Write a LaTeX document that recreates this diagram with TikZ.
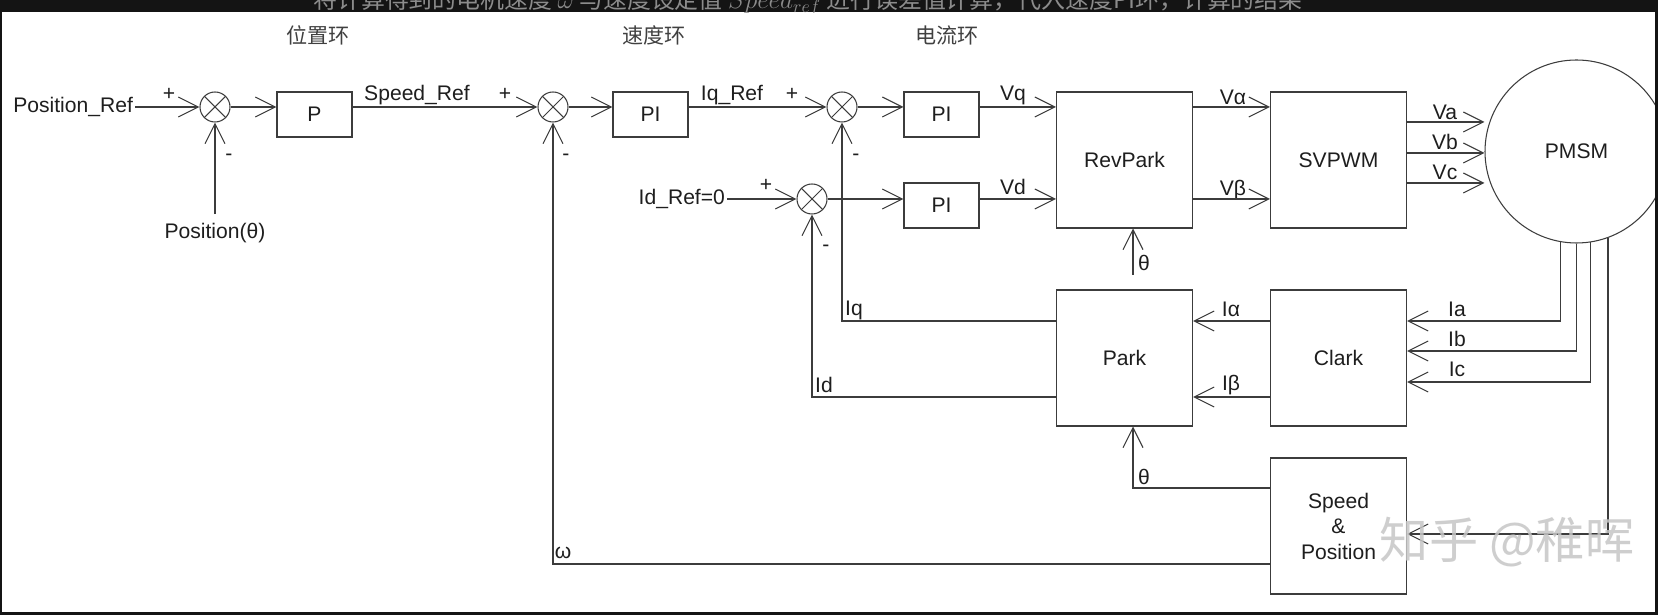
\documentclass[tikz,border=0pt]{standalone}
\usepackage{fontspec}
\setmainfont{Liberation Sans}
\newfontfamily\cjk{Noto Sans CJK SC}
\usetikzlibrary{arrows.meta, calc}

\definecolor{lnc}{HTML}{3C3C3C}
\definecolor{txc}{HTML}{1E1E1E}
\definecolor{bandc}{HTML}{141414}
\definecolor{capc}{HTML}{8C8C8C}

\begin{document}
\begin{tikzpicture}[
    blkbox/.style={draw=lnc, line width=0.6pt, minimum width=1.5cm, minimum height=0.9cm, inner sep=0pt, text=txc, font=\fontsize{12}{14.5}\selectfont},
    bigbox/.style={blkbox, minimum width=2.72cm, minimum height=2.72cm, align=center},
    sumnode/.style={circle, draw=lnc, line width=0.6pt, minimum size=0.6cm, inner sep=0pt,
        path picture={\draw[lnc, line width=0.6pt] (path picture bounding box.north west) -- (path picture bounding box.south east)
            (path picture bounding box.north east) -- (path picture bounding box.south west);}},
    lbl/.style={text=txc, inner sep=1pt, font=\fontsize{12}{14}\selectfont},
    cnlbl/.style={text=txc!85, inner sep=1pt, font=\cjk\fontsize{12}{14}\selectfont},
    arr/.style={draw=lnc, line width=0.6pt, -{Straight Barb[length=0.40cm, width=0.40cm]}}
]
\useasboundingbox (0,0) rectangle (33.16,12.30);
\fill[bandc] (0,0) rectangle (33.16,12.30);
\fill[white] (0.04,0.06) rectangle (33.10,12.054);

\begin{scope}
\clip (0,12.054) rectangle (33.16,12.30);
\node[anchor=base west, text=capc, inner sep=0pt, font=\cjk\fontsize{13.6}{16}\selectfont] (caption) at (6.26,12.12)
    {将计算得到的电机速度 $\omega$ 与速度设定值 $Speed_{ref}$ 进行误差值计算，代入速度PI环，计算的结果};
\end{scope}

\node[cnlbl] (posloop) at (6.36,11.60) {位置环};
\node[cnlbl] (spdloop) at (13.08,11.60) {速度环};
\node[cnlbl] (curloop) at (18.94,11.60) {电流环};

\node[lbl, anchor=east] (posref) at (2.70,10.16) {Position\_Ref};
\node[sumnode] (sum1) at (4.30,10.16) {};
\node[lbl, inner ysep=5pt] (posth) at (4.30,7.64) {Position(θ)};
\node[blkbox] (p) at (6.29,10.01) {P};
\node[sumnode] (sum2) at (11.06,10.16) {};
\node[blkbox] (pi1) at (13.01,10.01) {PI};
\node[sumnode] (sum3) at (16.84,10.16) {};
\node[blkbox] (piq) at (18.83,10.01) {PI};
\node[lbl, anchor=east] (idref) at (14.54,8.32) {Id\_Ref=0};
\node[sumnode] (sum4) at (16.24,8.32) {};
\node[blkbox] (pid) at (18.83,8.19) {PI};
\node[bigbox] (revpark) at (22.49,9.10) {RevPark};
\node[bigbox] (svpwm) at (26.77,9.10) {SVPWM};
\node[circle, draw=lnc, line width=0.6pt, minimum size=3.66cm, text=txc, font=\fontsize{12}{14}\selectfont] (pmsm) at (31.53,9.27) {PMSM};
\node[bigbox] (park) at (22.49,5.14) {Park};
\node[bigbox] (clark) at (26.77,5.14) {Clark};
\node[bigbox] (speedpos) at (26.77,1.78) {Speed\\\&\\Position};
\coordinate (threv) at (22.66,6.80);

\node[lbl] (plus1) at (3.38,10.42) {+};
\node[lbl] (minus1) at (4.58,9.16) {-};
\node[lbl] (spdref) at (8.34,10.40) {Speed\_Ref};
\node[lbl] (plus2) at (10.10,10.42) {+};
\node[lbl] (minus2) at (11.32,9.16) {-};
\node[lbl] (iqref) at (14.64,10.40) {Iq\_Ref};
\node[lbl] (plus3) at (15.84,10.42) {+};
\node[lbl] (minus3) at (17.12,9.16) {-};
\node[lbl] (plus4) at (15.32,8.60) {+};
\node[lbl] (minus4) at (16.52,7.34) {-};
\node[lbl] (vq) at (20.26,10.40) {Vq};
\node[lbl] (vd) at (20.26,8.56) {Vd};
\node[lbl] (valpha) at (24.66,10.36) {Vα};
\node[lbl] (vbeta) at (24.66,8.50) {Vβ};
\node[lbl] (va) at (28.90,10.06) {Va};
\node[lbl] (vb) at (28.90,9.46) {Vb};
\node[lbl] (vc) at (28.90,8.86) {Vc};
\node[lbl] (threvl) at (22.88,7.04) {θ};
\node[lbl] (iq) at (17.08,6.10) {Iq};
\node[lbl] (id) at (16.48,4.60) {Id};
\node[lbl] (omega) at (11.26,1.24) {ω};
\node[lbl] (thpark) at (22.88,2.76) {θ};
\node[lbl] (ialpha) at (24.62,6.12) {Iα};
\node[lbl] (ibeta) at (24.62,4.60) {Iβ};
\node[lbl] (ia) at (29.14,6.12) {Ia};
\node[lbl] (ib) at (29.14,5.52) {Ib};
\node[lbl] (ic) at (29.14,4.92) {Ic};

\draw[arr] (posref) -- (sum1);
\draw[arr] (posth) -- (sum1);
\draw[arr] (sum1) -- (sum1 -| p.west);
\draw[arr] (p.east |- sum1) -- (sum2);
\draw[arr] (sum2) -- (sum2 -| pi1.west);
\draw[arr] (pi1.east |- sum2) -- (sum3);
\draw[arr] (sum3) -- (sum3 -| piq.west);
\draw[arr] (idref) -- (sum4);
\draw[arr] (sum4) -- (sum4 -| pid.west);
\draw[arr] (piq.east |- sum3) -- (sum3 -| revpark.west);
\draw[arr] (pid.east |- sum4) -- (sum4 -| revpark.west);
\draw[arr] (revpark.east |- sum3) -- (sum3 -| svpwm.west);
\draw[arr] (revpark.east |- sum4) -- (sum4 -| svpwm.west);
\draw[arr] (svpwm.east |- 0,9.86) -- (pmsm.west |- 0,9.86);
\draw[arr] (svpwm.east |- 0,9.24) -- (pmsm.west |- 0,9.24);
\draw[arr] (svpwm.east |- 0,8.64) -- (pmsm.west |- 0,8.64);
\draw[arr] (threv) -- (threv |- revpark.south);

\draw[arr] (pmsm.260) |- (clark.east |- 0,5.88);
\draw[arr] (pmsm.270) |- (clark.east |- 0,5.28);
\draw[arr] (pmsm.279) |- (clark.east |- 0,4.66);
\draw[arr] (pmsm.290) |- (speedpos.east |- 0,1.62);
\draw[arr] (clark.west |- 0,5.88) -- (park.east |- 0,5.88);
\draw[arr] (clark.west |- 0,4.36) -- (park.east |- 0,4.36);
\draw[arr] (park.west |- 0,5.88) -| (sum3);
\draw[arr] (park.west |- 0,4.36) -| (sum4);
\draw[arr] (speedpos.west |- 0,2.54) -| (22.66,0 |- park.south);
\draw[arr] (speedpos.west |- 0,1.02) -| (sum2);

\node[text=gray!45, opacity=0.85, inner sep=0pt, font=\cjk\fontsize{28}{30}\selectfont] (wmark) at (30.14,1.46) {知乎 @稚晖};
\fill[bandc] (33.10,0) rectangle (33.16,12.30);
\end{tikzpicture}
\end{document}
